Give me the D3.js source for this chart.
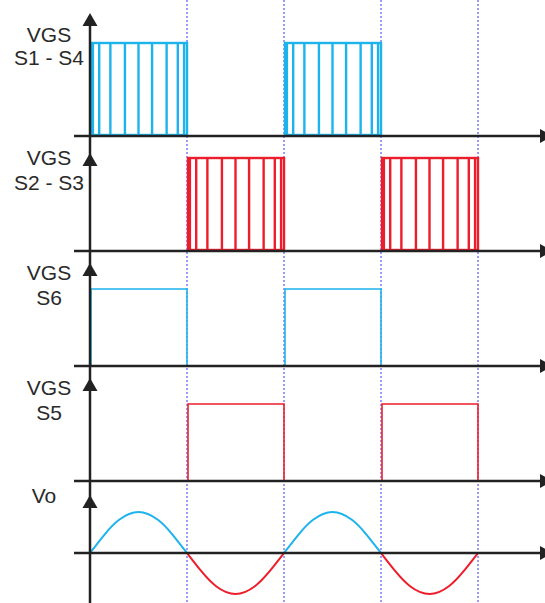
<!DOCTYPE html>
<html><head><meta charset="utf-8">
<script src="https://cdn.jsdelivr.net/npm/d3@7/dist/d3.min.js"></script>
<style>body{margin:0;background:#fff}svg{display:block}</style>
</head><body><svg id="c" width="545" height="603"></svg>
<script>
// ---- data ----
const halfPeriods = [0, 1, 2, 3, 4];              // time boundaries (half-periods)
const pwmEdges = [0, 0.03, 0.095, 0.21, 0.36, 0.5, 0.64, 0.79, 0.905, 0.97, 1]; // PWM switching edges within a half-period
const panelLabels = [["VGS", "S1 - S4"], ["VGS", "S2 - S3"], ["VGS", "S6"], ["VGS", "S5"], ["Vo"]];
const pwmBlueHalves = [0, 2];   // S1-S4 active
const pwmRedHalves = [1, 3];    // S2-S3 active
const s6Halves = [0, 2];
const s5Halves = [1, 3];
const sinePhase = [0, 0.15, 0.3, 0.5, 0.7, 0.85, 1];
const sineValue = [0, 0.45, 0.81, 1, 0.81, 0.45, 0];
const voHalves = [{h: 0, sign: 1}, {h: 1, sign: -1}, {h: 2, sign: 1}, {h: 3, sign: -1}];

// ---- layout ----
const W = 545, H = 603;
const BLUE = "#1db3ec", RED = "#ee1d2b", AX = "#222", DOT = "#3838f8";
const x = d3.scaleLinear().domain([0, 4]).range([90, 478]);
const panels = [
  {y: d3.scaleLinear().domain([0, 1]).range([136, 43]), arrow: 13, text: [42, 65]},
  {y: d3.scaleLinear().domain([0, 1]).range([251, 158]), arrow: 153, text: [165, 190]},
  {y: d3.scaleLinear().domain([0, 1]).range([366, 289]), arrow: 263, text: [280, 305]},
  {y: d3.scaleLinear().domain([0, 1]).range([481, 404]), arrow: 378, text: [395, 420]},
  {y: d3.scaleLinear().domain([-1, 1]).range([594, 512]), arrow: 495, text: [503]}
];
const svg = d3.select("#c");

// dotted vertical lines
svg.append("g").selectAll("line").data(halfPeriods.slice(1)).join("line")
  .attr("x1", d => x(d)).attr("x2", d => x(d)).attr("y1", 0).attr("y2", H)
  .attr("stroke", DOT).attr("stroke-width", 1).attr("stroke-dasharray", "2,2");

// PWM panels
function pwm(panel, halves, color) {
  const g = svg.append("g").attr("fill", "none").attr("stroke", color).attr("stroke-width", 2.4);
  halves.forEach(h => {
    const x0 = x(h), x1 = x(h + 1);
    g.append("rect").attr("x", x0 + 1).attr("y", panel.y(1)).attr("width", x1 - x0 - 1).attr("height", panel.y(0) - panel.y(1) - 1);
    g.selectAll(null).data(pwmEdges.slice(1, -1)).join("line")
      .attr("x1", d => x(h + d)).attr("x2", d => x(h + d))
      .attr("y1", panel.y(1)).attr("y2", panel.y(0));
  });
}
pwm(panels[0], pwmBlueHalves, BLUE);
pwm(panels[1], pwmRedHalves, RED);

function square(panel, halves, color) {
  const g = svg.append("g").attr("fill", "none").attr("stroke", color).attr("stroke-width", 1.6);
  halves.forEach(h => {
    g.append("path").attr("d", d3.line()([[x(h) + 1, panel.y(0)], [x(h) + 1, panel.y(1)], [x(h + 1), panel.y(1)], [x(h + 1), panel.y(0)]]));
  });
}
square(panels[2], s6Halves, BLUE);
square(panels[3], s5Halves, RED);

// Vo
const line = d3.line().curve(d3.curveNatural);
voHalves.forEach(v => {
  const pts = sinePhase.map((p, i) => [x(v.h + p), panels[4].y(v.sign * sineValue[i])]);
  svg.append("path").attr("d", line(pts)).attr("fill", "none")
    .attr("stroke", v.sign > 0 ? BLUE : RED).attr("stroke-width", 2);
});

// axes
const axG = svg.append("g");
const baseYs = [panels[0].y(0), panels[1].y(0), panels[2].y(0), panels[3].y(0), panels[4].y(0)];
baseYs.forEach(by => {
  axG.append("line").attr("x1", 74).attr("x2", 542).attr("y1", by).attr("y2", by)
    .attr("stroke", AX).attr("stroke-width", 2.5);
  axG.append("path").attr("d", `M${540},${by - 7}L${553},${by}L${540},${by + 7}Z`).attr("fill", AX);
});
axG.append("line").attr("x1", 90).attr("x2", 90).attr("y1", 16).attr("y2", H)
  .attr("stroke", AX).attr("stroke-width", 2.5);
panels.forEach(p => {
  axG.append("path").attr("d", `M90,${p.arrow}L${97.5},${p.arrow + 13}L${82.5},${p.arrow + 13}Z`).attr("fill", AX);
});

// labels
panels.forEach((p, i) => {
  panelLabels[i].forEach((t, j) => {
    svg.append("text").attr("x", i === 4 ? 44 : 49).attr("y", p.text[j])
      .attr("text-anchor", "middle").attr("font-family", "Liberation Sans, Arial, sans-serif")
      .attr("font-size", 21).attr("fill", "#2a2a2a").text(t);
  });
});
</script></body></html>
